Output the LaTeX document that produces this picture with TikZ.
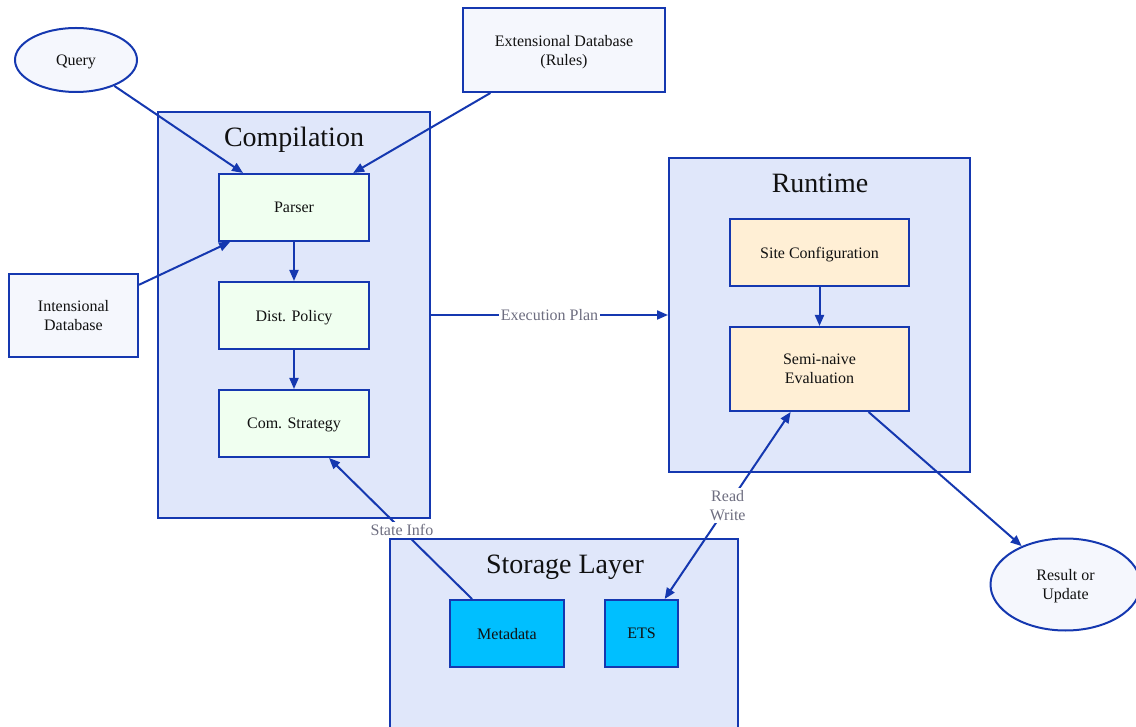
\documentclass[tikz,border=0pt]{standalone}
\usepackage{fontspec}
\setmainfont{Liberation Serif}
\usetikzlibrary{arrows.meta,shapes.geometric}
\definecolor{edgeblue}{HTML}{1538B0}
\definecolor{clusterfill}{HTML}{E0E7FA}
\definecolor{outerfill}{HTML}{F5F7FD}
\definecolor{compfill}{HTML}{F0FFF0}
\definecolor{runfill}{HTML}{FFEFD5}
\definecolor{storefill}{HTML}{00BFFF}
\definecolor{labelgrey}{HTML}{6E6E80}
\definecolor{inktext}{HTML}{111111}
\begin{document}
\begin{tikzpicture}[x=1pt,y=-1pt,
  every node/.style={text=inktext},
  cluster/.style={draw=edgeblue, line width=2pt, fill=clusterfill, rectangle, inner sep=0pt, outer sep=1pt},
  clustertitle/.style={font=\fontsize{28}{32}\selectfont, inner sep=0pt, text depth=0pt},
  box/.style={draw=edgeblue, line width=2pt, rectangle, inner sep=0pt, outer sep=1pt,
    align=center, text depth=0pt, font=\fontsize{16}{19}\selectfont},
  oval/.style={draw=edgeblue, line width=2pt, ellipse, fill=outerfill, inner sep=0pt, outer sep=1pt,
    align=center, text depth=0pt, font=\fontsize{16}{19}\selectfont},
  conn/.style={draw=edgeblue, line width=2pt, -{Triangle[length=11pt,width=9pt]}},
  biconn/.style={draw=edgeblue, line width=2pt, {Triangle[length=11pt,width=9pt]}-{Triangle[length=11pt,width=9pt]}},
  edgelabel/.style={fill=white, text=labelgrey, inner sep=2pt, align=center,
    font=\fontsize{16}{19}\selectfont}
]
\useasboundingbox (0,0) rectangle (1136,727);

% clusters
\node[cluster, minimum width=272pt, minimum height=406pt] (comp) at (294,315) {};
\node[cluster, minimum width=301pt, minimum height=314pt] (run) at (819.5,315) {};
\node[cluster, minimum width=348pt, minimum height=191pt] (store) at (564,634.5) {};
\node[clustertitle] (comptitle) at (294,137) {Compilation};
\node[clustertitle] (runtitle) at (820,183) {Runtime};
\node[clustertitle] (storetitle) at (565,564) {Storage Layer};

% inputs and output
\node[oval, minimum width=122pt, minimum height=64pt] (query) at (76,60) {Query};
\node[box, fill=outerfill, minimum width=202pt, minimum height=84pt] (edb) at (564,50) {Extensional Database\\(Rules)};
\node[box, fill=outerfill, minimum width=129pt, minimum height=83pt] (idb) at (73.5,315.5) {Intensional\\Database};
\node[oval, minimum width=150pt, minimum height=92pt] (result) at (1065.5,584.5) {Result or\\Update};

% compilation stages
\node[box, fill=compfill, minimum width=150pt, minimum height=67pt] (parser) at (294,207.5) {Parser};
\node[box, fill=compfill, minimum width=150pt, minimum height=67pt] (dist) at (294,315.5) {Dist. Policy};
\node[box, fill=compfill, minimum width=150pt, minimum height=67pt] (comstrat) at (294,423.5) {Com. Strategy};

% runtime stages
\node[box, fill=runfill, minimum width=179pt, minimum height=67pt] (site) at (819.5,252.5) {Site Configuration};
\node[box, fill=runfill, minimum width=179pt, minimum height=84pt] (semi) at (819.5,369) {Semi-naive\\Evaluation};

% storage
\node[box, fill=storefill, minimum width=114pt, minimum height=67pt] (meta) at (507,633.5) {Metadata};
\node[box, fill=storefill, minimum width=73pt, minimum height=67pt] (ets) at (641.5,633.5) {ETS};

% connectors
\draw[conn] (query) -- (parser);
\draw[conn] (edb) -- (parser);
\draw[conn] (idb) -- ([xshift=12pt]parser.south west);
\draw[conn] (parser) -- (dist);
\draw[conn] (dist) -- (comstrat);
\draw[conn] (site) -- (semi);
\draw[conn] (comp) -- node[edgelabel] {Execution Plan} (run);
\draw[conn] (meta) -- node[edgelabel, pos=0.49] {State Info} (comstrat);
\draw[biconn] (ets) -- node[edgelabel, pos=0.5] {Read\\Write} (semi);
\draw[conn] (semi) -- (result);
\end{tikzpicture}
\end{document}
